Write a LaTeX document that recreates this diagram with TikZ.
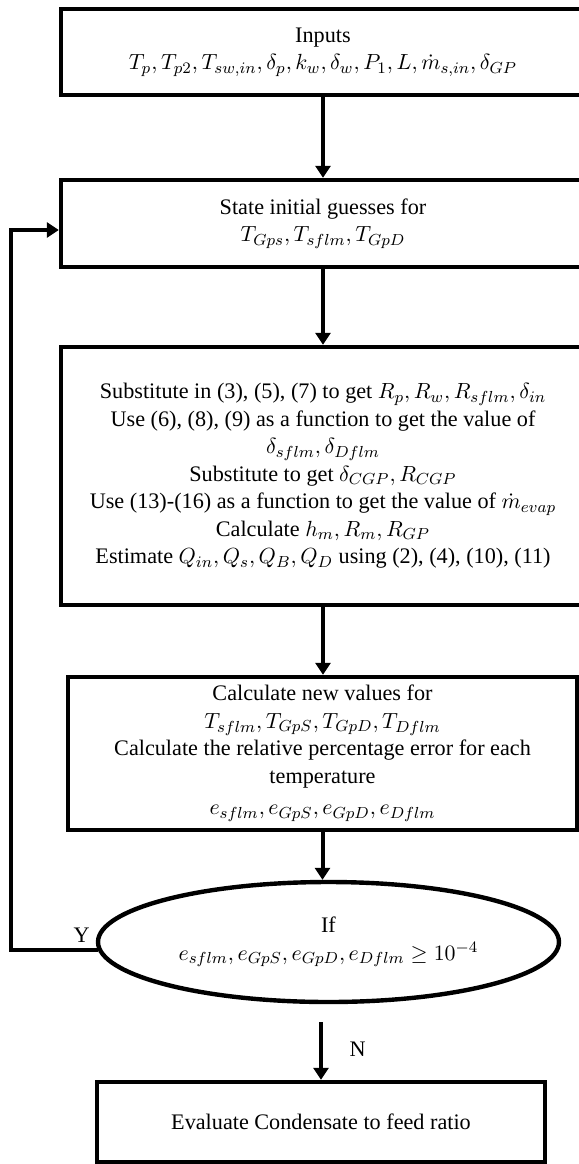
\documentclass[tikz,border=0pt]{standalone}
\usepackage{fontspec}
\setmainfont{Liberation Serif}
\usepackage{amsmath}
\usetikzlibrary{arrows.meta,shapes.geometric}

\begin{document}
\begin{tikzpicture}
[
    x=0.5pt, y=-0.5pt,
    every node/.style={font=\fontsize{11.1}{13.75}\selectfont},
    stepbox/.style={draw, line width=2.2pt, align=center, inner sep=0pt, minimum width=262pt},
    testbox/.style={draw, ellipse, line width=2.2pt, align=center, inner sep=0pt},
    flow/.style={-{Triangle[length=6pt,width=7.5pt]}, line width=2pt},
]
\useasboundingbox (0,0) rectangle (579,1164);
\clip (0,0) rectangle (579,1164);

\node [stepbox, minimum height=43pt] (inputs) at (323,52)
{Inputs\\
$T_p, T_{p2}, T_{sw,in}, \delta_p, k_w, \delta_w, P_1, L, \dot{m}_{s,in}, \delta_{GP}$};

\node [stepbox, minimum height=43.5pt] (init) at (323,223.5)
{State initial guesses for\\
$T_{Gps}, T_{sflm}, T_{GpD}$};

\node [stepbox, minimum height=129pt] (calc) at (323,476)
{Substitute in (3), (5), (7) to get $R_p, R_w, R_{sflm}, \delta_{in}$\\
Use (6), (8), (9) as a function to get the value of\\
$\delta_{sflm}, \delta_{Dflm}$\\
Substitute to get $\delta_{CGP}, R_{CGP}$\\
Use (13)-(16) as a function to get the value of $\dot{m}_{evap}$\\
Calculate $h_m, R_m, R_{GP}$\\
Estimate $Q_{in}, Q_s, Q_B, Q_D$ using (2), (4), (10), (11)};

\node [stepbox, minimum width=254.5pt, minimum height=76.5pt] (update) at (322.5,753.5)
{Calculate new values for\\
$T_{sflm}, T_{GpS}, T_{GpD}, T_{Dflm}$\\
Calculate the relative percentage error for each\\
temperature\\[2pt]
$e_{sflm}, e_{GpS}, e_{GpD}, e_{Dflm}$};

\node [testbox, minimum width=230.5pt, minimum height=60pt] (cond) at (328.5,942)
{If\\
$e_{sflm}, e_{GpS}, e_{GpD}, e_{Dflm} \geq 10^{-4}$};

\node [stepbox, minimum width=224pt, minimum height=40pt] (final) at (321,1122)
{Evaluate Condensate to feed ratio};

\coordinate (loopx) at (11,0);

% main chain
\draw [flow] (inputs) -- (init);
\draw [flow] (init) -- (calc);
\draw [flow] (calc.south) -- (calc.south |- update.north);
\draw [flow] (update.south) -- (update.south |- cond.north);
\draw [flow, shorten <=9pt] (final.north |- cond.south) -- (final.north)
    node [pos=0.6, right, xshift=10pt] (nlab) {N};

% back to the guesses
\draw [flow] (cond.182) node [above left, inner sep=3pt] (ylab) {Y}
    -| ([yshift=-3.25pt]loopx |- init.west) -- ([yshift=-3.25pt]init.west);
\end{tikzpicture}
\end{document}
